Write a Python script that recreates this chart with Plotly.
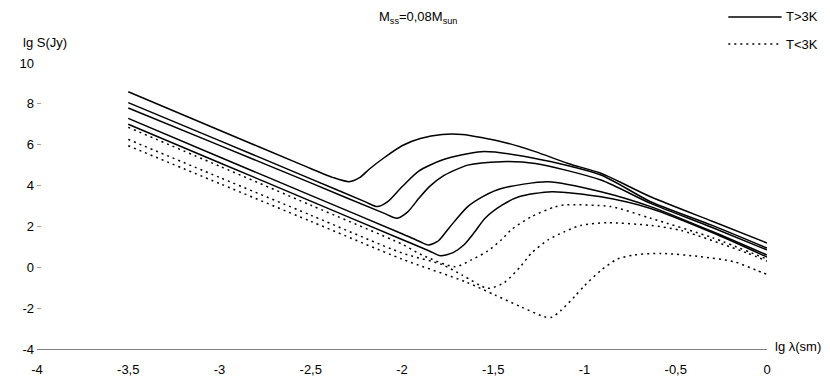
import plotly.graph_objects as go

# lg lambda (sm) / lg S (Jy)
x_s1 = [-3.5, -3.0, -2.545, -2.38, -2.29, -2.23, -2.18, -2.1, -2.0, -1.9, -1.78, -1.67, -1.455, -1.27, -1.09, -0.91, -0.638, -0.3, 0]
y_s1 = [8.59, 6.71, 5.0, 4.4, 4.19, 4.4, 4.8, 5.35, 5.95, 6.3, 6.5, 6.5, 6.15, 5.66, 5.08, 4.6, 3.45, 2.25, 1.19]

x_s2 = [-3.5, -3.0, -2.5, -2.2, -2.136, -2.08, -2.0, -1.91, -1.78, -1.564, -1.27, -0.91, -0.638, -0.3, 0]
y_s2 = [8.06, 6.2, 4.33, 3.2, 2.97, 3.2, 3.94, 4.7, 5.25, 5.66, 5.33, 4.52, 3.21, 2.05, 0.94]

x_s3 = [-3.5, -3.0, -2.5, -2.1, -2.027, -1.97, -1.91, -1.85, -1.78, -1.64, -1.455, -1.27, -0.91, -0.638, -0.3, 0]
y_s3 = [7.8, 5.97, 4.13, 2.65, 2.4, 2.7, 3.35, 3.95, 4.44, 5.0, 5.17, 5.08, 4.27, 3.13, 1.95, 0.85]

x_s4 = [-3.5, -3.0, -2.5, -2.0, -1.9, -1.855, -1.8, -1.74, -1.64, -1.55, -1.455, -1.2, -0.91, -0.638, -0.3, 0]
y_s4 = [7.29, 5.4, 3.52, 1.64, 1.25, 1.09, 1.3, 1.95, 2.97, 3.5, 3.86, 4.19, 3.7, 2.97, 1.75, 0.6]

x_s5 = [-3.5, -3.0, -2.5, -2.0, -1.85, -1.79, -1.72, -1.66, -1.6, -1.545, -1.45, -1.36, -1.18, -0.91, -0.638, -0.3, 0]
y_s5 = [7.0, 5.12, 3.24, 1.36, 0.8, 0.57, 0.72, 1.1, 1.75, 2.4, 3.05, 3.45, 3.7, 3.45, 2.88, 1.7, 0.5]

x_d1 = [-3.5, -3.0, -2.5, -2.0, -1.89, -1.71, -1.62, -1.53, -1.455, -1.4, -1.29, -1.165, -1.11, -0.856, -0.638, -0.3, 0]
y_d1 = [6.85, 4.95, 3.04, 1.13, 0.6, 0.03, 0.36, 0.8, 1.35, 1.85, 2.48, 2.95, 3.05, 2.97, 2.4, 1.45, 0.4]

x_d2 = [-3.5, -3.0, -2.5, -2.0, -1.78, -1.67, -1.53, -1.44, -1.35, -1.29, -1.2, -1.11, -1.02, -0.874, -0.638, -0.47, -0.11, 0]
y_d2 = [6.26, 4.4, 2.55, 0.7, 0.13, -0.38, -1.03, -0.75, 0.05, 0.7, 1.34, 1.74, 2.05, 2.18, 2.05, 1.8, 0.7, 0.3]

x_d3 = [-3.5, -3.0, -2.5, -2.0, -1.655, -1.49, -1.35, -1.22, -1.18, -1.13, -1.055, -1.0, -0.91, -0.82, -0.73, -0.58, -0.365, -0.18, -0.056, 0]
y_d3 = [5.95, 4.1, 2.25, 0.4, -0.7, -1.36, -1.93, -2.42, -2.45, -2.12, -1.44, -0.9, -0.15, 0.4, 0.6, 0.68, 0.52, 0.27, -0.15, -0.35]

solid = [(x_s1, y_s1), (x_s2, y_s2), (x_s3, y_s3), (x_s4, y_s4), (x_s5, y_s5)]
dotted = [(x_d1, y_d1), (x_d2, y_d2), (x_d3, y_d3)]

x_ticks = [-4, -3.5, -3, -2.5, -2, -1.5, -1, -0.5, 0]
x_labels = ["-4", "-3,5", "-3", "-2,5", "-2", "-1,5", "-1", "-0,5", "0"]
y_ticks = [-4, -2, 0, 2, 4, 6, 8, 10]
y_labels = ["-4", "-2", "0", "2", "4", "6", "8", "10"]

fnt = dict(family="Liberation Sans, Arial, sans-serif", size=13, color="black")
dot_dash = "2px,4px"

fig = go.Figure()
for xs, ys in solid:
    fig.add_trace(go.Scatter(x=xs, y=ys, mode="lines", showlegend=False,
                             line=dict(color="black", width=1.5, shape="spline", smoothing=0.7)))
for xs, ys in dotted:
    fig.add_trace(go.Scatter(x=xs, y=ys, mode="lines", showlegend=False,
                             line=dict(color="black", width=1.5, dash=dot_dash, shape="spline", smoothing=0.7)))

# legend drawn by hand (paper coordinates) so it does not push the margins
legend_shapes = [
    dict(type="line", xref="paper", yref="paper", x0=0.947, x1=1.020, y0=1.161, y1=1.161,
         line=dict(color="black", width=1.5)),
    dict(type="line", xref="paper", yref="paper", x0=0.947, x1=1.020, y0=1.066, y1=1.066,
         line=dict(color="black", width=1.5, dash=dot_dash)),
]

# the page body adds an 8px offset, so the figure is 8px smaller than the window
fig.update_layout(
    width=822, height=384,
    margin=dict(l=25, r=63, t=55, b=43),
    paper_bgcolor="white", plot_bgcolor="white",
    font=fnt,
    showlegend=False,
    title=dict(text="M<sub>ss</sub>=0,08M<sub>sun</sub>", x=0.499, xanchor="center",
               y=0.977, yanchor="middle", font=dict(size=13)),
    xaxis=dict(range=[-4, 0], tickvals=x_ticks, ticktext=x_labels, showgrid=False, zeroline=False,
               showline=True, linecolor="#808080", linewidth=1, ticks="",
               ticklabelstandoff=8, tickfont=fnt),
    yaxis=dict(range=[-4, 10], tickvals=y_ticks, ticktext=y_labels, showgrid=False, zeroline=False,
               showline=False, ticks="inside", ticklen=4, tickcolor="#a0a0a0",
               ticklabelstandoff=2, tickfont=fnt),
    shapes=legend_shapes,
    annotations=[
        dict(text="T>3K", xref="paper", yref="paper", x=1.023, y=1.161,
             xanchor="left", yanchor="middle", showarrow=False, font=fnt),
        dict(text="T<3K", xref="paper", yref="paper", x=1.023, y=1.066,
             xanchor="left", yanchor="middle", showarrow=False, font=fnt),
        dict(text="lg S(Jy)", xref="paper", yref="paper", x=-0.022, y=1.07,
             xanchor="left", yanchor="middle", showarrow=False, font=fnt),
        dict(text="lg λ(sm)", xref="paper", yref="paper", x=1.008, y=0.01,
             xanchor="left", yanchor="middle", showarrow=False, font=fnt),
    ],
)

fig.write_html("out.html")
